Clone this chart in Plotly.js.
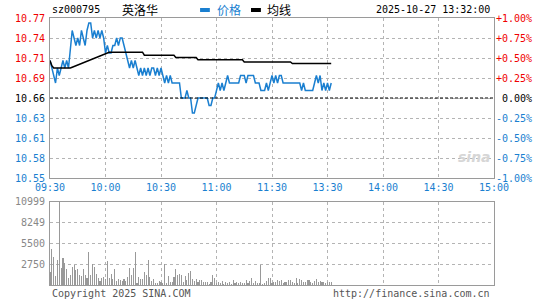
<!DOCTYPE html>
<html>
<head>
<meta charset="utf-8">
<script src="https://cdn.plot.ly/plotly-3.0.1.min.js"></script>
<style>html,body{margin:0;padding:0;background:#fff;}#chart{width:545px;height:300px;}</style>
</head>
<body>
<div id="chart"></div>
<script>
// ---- data ----
const stockCode = 'sz000795';
const stockName = '英洛华';
const stamp = '2025-10-27 13:32:00';
const prevClose = 10.66;
const pctSteps = [1, 0.75, 0.5, 0.25, 0, -0.25, -0.5, -0.75, -1];
const priceLabels = ['10.77','10.74','10.71','10.69','10.66','10.63','10.61','10.58','10.55'];
const pctLabels = ['+1.00%','+0.75%','+0.50%','+0.25%','0.00%','-0.25%','-0.50%','-0.75%','-1.00%'];
const timeTicks = [0, 30, 60, 90, 120, 150, 180, 210, 240];
const timeLabels = ['09:30','10:00','10:30','11:00','11:30','13:30','14:00','14:30','15:00'];
const volTicks = [2750, 5500, 8249, 10999];
const volLabels = ['2750','5500','8249','10999'];
const volMax = 10999;

const price = [
10.71,10.70,10.69,10.68,10.70,10.69,10.70,10.71,10.70,10.71,10.70,
10.73,10.75,10.74,10.73,10.74,10.73,10.75,10.74,10.73,10.75,
10.76,10.76,10.74,10.75,10.74,10.75,10.74,10.75,10.74,10.72,
10.73,10.72,10.72,10.73,10.73,10.74,10.73,10.74,10.74,10.73,
10.72,10.71,10.70,10.71,10.70,10.71,10.70,10.69,10.70,10.69,
10.70,10.69,10.70,10.69,10.70,10.70,10.69,10.70,10.69,10.70,
10.69,10.68,10.69,10.68,10.69,10.68,10.68,10.68,10.68,10.68,
10.66,10.66,10.66,10.67,10.66,10.66,10.64,10.64,10.65,10.66,
10.66,10.66,10.66,10.66,10.66,10.65,10.65,10.66,10.66,10.67,
10.68,10.67,10.68,10.67,10.68,10.69,10.68,10.68,10.68,10.68,
10.68,10.68,10.69,10.69,10.69,10.68,10.69,10.69,10.69,10.69,
10.68,10.68,10.68,10.67,10.67,10.67,10.68,10.67,10.68,10.69,
10.68,10.69,10.68,10.69,10.69,10.68,10.68,10.68,10.68,10.68,
10.68,10.68,10.68,10.68,10.68,10.67,10.68,10.67,10.67,10.67,
10.67,10.67,10.68,10.69,10.68,10.69,10.67,10.68,10.67,10.68,
10.67,10.68
];

const avgPrice = [
10.710,10.703,10.700,10.700,10.700,10.700,10.700,10.700,10.700,10.700,10.700,10.700,
10.701,10.702,10.703,10.704,10.705,10.706,10.707,10.708,10.709,10.710,
10.712,10.713,10.714,10.715,10.716,10.717,10.718,10.719,10.720,
10.721,10.721,10.721,10.721,10.721,10.721,10.721,10.721,10.721,10.721,
10.721,10.721,10.721,10.721,10.721,10.721,10.721,10.721,10.721,10.721,
10.717,10.717,10.717,10.717,10.717,10.717,10.717,10.717,10.717,10.717,
10.717,10.717,10.717,10.717,10.717,10.717,10.717,
10.714,10.714,10.714,10.714,10.714,10.714,10.714,10.714,10.714,10.714,10.714,10.714,
10.711,10.711,10.711,10.711,10.711,10.711,10.711,10.711,10.711,10.711,
10.711,10.711,10.711,10.711,10.711,10.711,10.711,10.711,10.711,10.711,
10.711,10.711,10.711,10.711,10.711,
10.708,10.708,10.708,10.708,10.708,10.708,10.708,10.708,10.708,10.708,
10.708,10.708,10.708,10.708,10.708,10.708,10.708,10.708,10.708,10.708,
10.708,10.708,10.708,10.708,10.708,10.708,
10.706,10.706,10.706,10.706,10.706,10.706,10.706,10.706,10.706,10.706,
10.706,10.706,10.706,10.706,10.706,10.706,10.706,10.706,10.706,10.706,
10.706,10.706
];

const volume = [
1750,4730,3680,1180,3290,10999,2190,3550,2940,2100,
920,1310,2370,2630,2020,2100,1360,1180,2100,1360,
920,4340,1270,2720,2370,1450,920,570,920,1010,
830,3200,920,1450,830,2100,570,830,660,570,
830,570,1010,2280,1270,2240,4340,220,1010,750,
830,1750,1360,3290,1010,570,750,220,220,570,
440,310,2720,220,1180,395,395,1100,2100,1270,
1450,1270,395,1180,660,1620,1840,
730,520,730,430,600,600,430,340,340,170,
340,1380,860,260,430,260,520,170,340,260,
340,170,600,260,340,260,340,260,260,600,
260,520,950,260,520,260,260,2670,170,260,
520,950,860,260,430,340,600,520,600,260,
430,340,690,690,340,260,950,260,820,690,
430,340,600,690,340,260,520,820,340,520,
430,430,260,340,430,430
];

// ---- drawing ----
const minutes = price.map((_, i) => i);
const MONO = 'DejaVu Sans Mono';
const CJK = 'Noto Sans CJK SC';
const RED = '#f00000';
const BLUE = '#1a7fd0';
const GRID = '#b4b4b4';
const BORDER = '#9a9a9a';

const lo = prevClose * (1 + pctSteps[pctSteps.length - 1] / 100);
const hi = prevClose * (1 + pctSteps[0] / 100);
const priceTicks = pctSteps.map(p => prevClose * (1 + p / 100));

const traces = [
  {x: minutes, y: price, type: 'scatter', mode: 'lines', xaxis: 'x', yaxis: 'y',
   line: {color: BLUE, width: 1.5}, hoverinfo: 'none'},
  {x: minutes.slice(0, avgPrice.length), y: avgPrice, type: 'scatter', mode: 'lines', xaxis: 'x', yaxis: 'y',
   line: {color: '#000', width: 1.5}, hoverinfo: 'none'},
  {x: minutes.slice(0, volume.length), y: volume, type: 'bar', xaxis: 'x2', yaxis: 'y2',
   marker: {color: '#999', line: {width: 0}}, width: 0.6, hoverinfo: 'none'}
];

const annotations = [];
pctSteps.forEach((p, i) => {
  const c = p > 0 ? RED : (p < 0 ? BLUE : '#000');
  annotations.push({xref: 'paper', yref: 'y', x: 0, y: priceTicks[i], xanchor: 'right', yanchor: 'middle',
    xshift: -3, text: priceLabels[i], showarrow: false, font: {family: MONO, size: 10, color: c}});
  annotations.push({xref: 'paper', yref: 'y', x: 1, y: priceTicks[i], xanchor: 'right', yanchor: 'middle',
    xshift: 40, text: pctLabels[i], showarrow: false, font: {family: MONO, size: 10, color: c}});
});
volTicks.forEach((v, i) => {
  annotations.push({xref: 'paper', yref: 'y2', x: 0, y: v, xanchor: 'right', yanchor: 'middle',
    xshift: -3, text: volLabels[i], showarrow: false, font: {family: MONO, size: 10, color: '#888'}});
});
// header
const hy = 1.03;
annotations.push({xref: 'paper', yref: 'paper', x: 0, y: hy, xanchor: 'left', yanchor: 'middle', text: stockCode,
  showarrow: false, font: {family: MONO, size: 10, color: '#000'}});
annotations.push({xref: 'paper', yref: 'paper', x: 0.158, y: hy, xanchor: 'left', yanchor: 'middle', text: stockName,
  showarrow: false, font: {family: CJK, size: 12, color: '#000'}});
annotations.push({xref: 'paper', yref: 'paper', x: 0.372, y: hy, xanchor: 'left', yanchor: 'middle', text: '价格',
  showarrow: false, font: {family: CJK, size: 12, color: BLUE}});
annotations.push({xref: 'paper', yref: 'paper', x: 0.485, y: hy, xanchor: 'left', yanchor: 'middle', text: '均线',
  showarrow: false, font: {family: CJK, size: 12, color: '#000'}});
annotations.push({xref: 'paper', yref: 'paper', x: 1, y: hy, xanchor: 'right', yanchor: 'middle', xshift: -2, text: stamp,
  showarrow: false, font: {family: MONO, size: 10, color: '#000'}});
// footer
annotations.push({xref: 'paper', yref: 'paper', x: 0, y: 0, xanchor: 'left', yanchor: 'top', yshift: -1,
  text: 'Copyright 2025 SINA.COM', showarrow: false, font: {family: MONO, size: 10, color: '#555'}});
annotations.push({xref: 'paper', yref: 'paper', x: 1, y: 0, xanchor: 'right', yanchor: 'top', yshift: -1, xshift: -2,
  text: 'http://finance.sina.com.cn', showarrow: false, font: {family: MONO, size: 10, color: '#555'}});
// watermark
annotations.push({xref: 'paper', yref: 'paper', x: 0.955, y: 0.48, xanchor: 'center', yanchor: 'middle',
  text: '<b><i>sina</i></b>', showarrow: false, font: {family: 'DejaVu Sans', size: 14, color: '#d6d6d6'}});

const shapes = [
  {type: 'line', xref: 'paper', yref: 'y', x0: 0, x1: 1, y0: prevClose, y1: prevClose,
   line: {color: '#000', width: 1, dash: '3px,2px'}},
  {type: 'line', xref: 'paper', yref: 'paper', x0: 0.338, x1: 0.36, y0: hy, y1: hy, line: {color: BLUE, width: 4}},
  {type: 'line', xref: 'paper', yref: 'paper', x0: 0.4527, x1: 0.475, y0: hy, y1: hy, line: {color: '#000', width: 4}}
];

const axisBase = {showline: true, linecolor: BORDER, linewidth: 1, mirror: true, zeroline: false,
  showgrid: true, gridcolor: GRID, griddash: 'dot', gridwidth: 1, ticks: '', fixedrange: true};

const layout = {
  width: 545, height: 300,
  margin: {l: 50, r: 51, t: 18, b: 15},
  paper_bgcolor: '#fff', plot_bgcolor: '#fff',
  showlegend: false,
  xaxis: Object.assign({}, axisBase, {domain: [0, 1], range: [0, 240], anchor: 'y',
    tickmode: 'array', tickvals: timeTicks, ticktext: timeLabels,
    tickfont: {family: MONO, size: 10, color: BLUE}}),
  yaxis: Object.assign({}, axisBase, {domain: [0.4007, 1], range: [lo, hi], anchor: 'x',
    tickmode: 'array', tickvals: priceTicks, showticklabels: false}),
  xaxis2: Object.assign({}, axisBase, {domain: [0, 1], range: [0, 240], anchor: 'y2',
    tickmode: 'array', tickvals: timeTicks, showticklabels: false}),
  yaxis2: Object.assign({}, axisBase, {domain: [0, 0.312], range: [0, volMax], anchor: 'x2',
    tickmode: 'array', tickvals: volTicks, showticklabels: false}),
  bargap: 0,
  annotations: annotations,
  shapes: shapes
};

Plotly.newPlot('chart', traces, layout, {staticPlot: true, displayModeBar: false});
</script>
</body>
</html>
